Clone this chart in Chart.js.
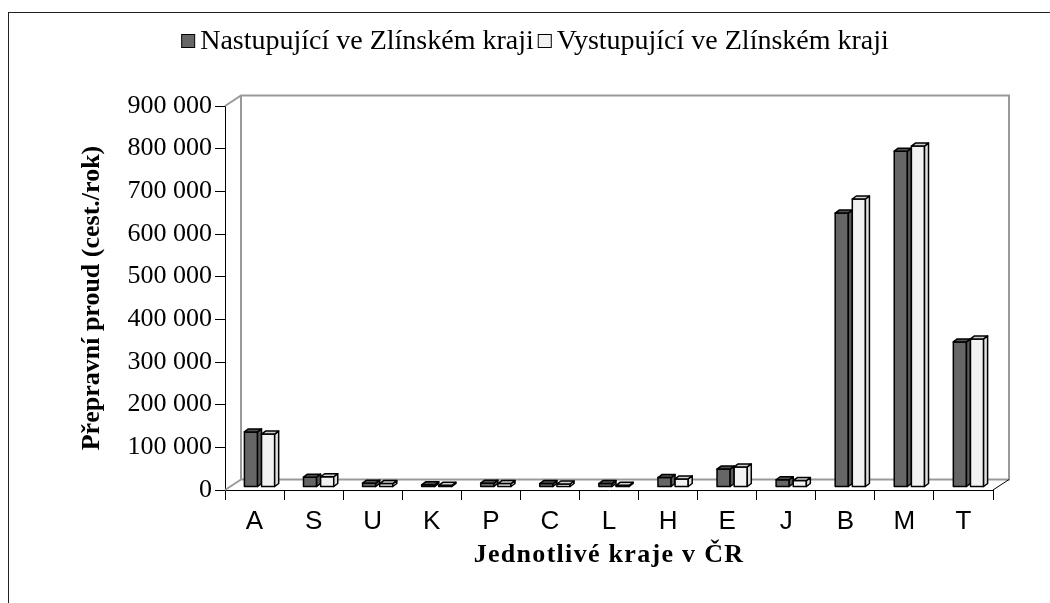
<!DOCTYPE html>
<html>
<head>
<meta charset="utf-8">
<script src="https://cdn.jsdelivr.net/npm/chart.js@4.4.1/dist/chart.umd.min.js"></script>
<style>
  html, body { margin: 0; padding: 0; background: #fff; }
  #wrap { width: 1050px; height: 603px; }
</style>
</head>
<body>
<div id="wrap"><canvas id="kraje-chart" width="1050" height="603"></canvas></div>
<script>
const categories = ["A", "S", "U", "K", "P", "C", "L", "H", "E", "J", "B", "M", "T"];
const seriesNames = ["Nastupující ve Zlínském kraji", "Vystupující ve Zlínském kraji"];
const nastupujici = [129000, 23000, 9000, 5000, 9000, 8000, 8000, 22000, 42000, 17000, 642000, 787000, 340000];
const vystupujici = [124000, 24000, 8000, 4000, 8000, 7000, 4000, 19000, 47000, 15000, 675000, 799000, 347000];
const yTicks = [0, 100000, 200000, 300000, 400000, 500000, 600000, 700000, 800000, 900000];

const seriesColors = [
  { front: "#666666", side: "#5a5a5a", top: "#505050" },
  { front: "#f2f2f2", side: "#e2e2e2", top: "#cfcfcf" },
];

// posun "hloubky" zadni steny a sloupcu
const wallDX = 16, wallDY = -10.5;
const barDX = 7, barDY = -3;
const barDepth = 4, barTopDY = 3;

function formatNumber(v) {
  return String(v).replace(/\B(?=(\d{3})+(?!\d))/g, " ");
}

// zadni stena + podlaha
const wallPlugin = {
  id: "wall",
  beforeDatasetsDraw(chart) {
    const { ctx, chartArea: a } = chart;
    ctx.save();
    ctx.strokeStyle = "#999999";
    ctx.lineWidth = 2;
    ctx.beginPath();
    ctx.moveTo(a.left, a.top);
    ctx.lineTo(a.left + wallDX, a.top + wallDY);
    ctx.lineTo(a.right + wallDX, a.top + wallDY);
    ctx.lineTo(a.right + wallDX, a.bottom + wallDY);
    ctx.lineTo(a.left + wallDX, a.bottom + wallDY);
    ctx.lineTo(a.left + wallDX, a.top + wallDY);
    ctx.moveTo(a.left, a.bottom);
    ctx.lineTo(a.left + wallDX, a.bottom + wallDY);
    ctx.stroke();
    ctx.strokeStyle = "#000000";
    ctx.lineWidth = 1;
    ctx.beginPath();
    ctx.moveTo(a.right, a.bottom);
    ctx.lineTo(a.right + wallDX, a.bottom + wallDY);
    ctx.stroke();
    ctx.restore();
  },
};

// 3D sloupce misto beznych
const bars3dPlugin = {
  id: "bars3d",
  beforeDatasetDraw() {
    return false;
  },
  afterDatasetsDraw(chart) {
    const ctx = chart.ctx;
    ctx.save();
    ctx.lineWidth = 1.5;
    ctx.strokeStyle = "#000000";
    ctx.lineJoin = "round";
    for (let i = 0; i < categories.length; i++) {
      chart.data.datasets.forEach((ds, di) => {
        const el = chart.getDatasetMeta(di).data[i];
        const { x, y, base, width } = el.getProps(["x", "y", "base", "width"], true);
        const c = seriesColors[di];
        const left = x - width / 2 + barDX;
        const right = left + width - barDepth;
        const top = y + barDY;
        const bottom = base + barDY;

        ctx.fillStyle = c.front;
        ctx.beginPath();
        ctx.rect(left, top, right - left, bottom - top);
        ctx.fill();
        ctx.stroke();

        ctx.fillStyle = c.side;
        ctx.beginPath();
        ctx.moveTo(right, top);
        ctx.lineTo(right + barDepth, top - barTopDY);
        ctx.lineTo(right + barDepth, bottom - barTopDY);
        ctx.lineTo(right, bottom);
        ctx.closePath();
        ctx.fill();
        ctx.stroke();

        ctx.fillStyle = c.top;
        ctx.beginPath();
        ctx.moveTo(left, top);
        ctx.lineTo(left + barDepth, top - barTopDY);
        ctx.lineTo(right + barDepth, top - barTopDY);
        ctx.lineTo(right, top);
        ctx.closePath();
        ctx.fill();
        ctx.stroke();
      });
    }
    ctx.restore();
  },
};

// legenda nahore + ramecek
const legendPlugin = {
  id: "legendTop",
  afterDraw(chart) {
    const ctx = chart.ctx;
    ctx.save();
    ctx.strokeStyle = "#222222";
    ctx.lineWidth = 1;
    ctx.strokeRect(8.5, 12.5, 1200, 800);

    ctx.font = "28px 'Liberation Serif'";
    ctx.textBaseline = "middle";
    const box = 13, gap = 6, itemGap = 4;
    const widths = chart.data.datasets.map((ds) => box + gap + ctx.measureText(ds.label).width);
    const total = widths.reduce((a, b) => a + b, 0) + itemGap;
    let x = 535 - total / 2;
    const y = 42;
    chart.data.datasets.forEach((ds, di) => {
      ctx.fillStyle = seriesColors[di].front;
      ctx.fillRect(x + 0.5, y - 7.5, box, box);
      ctx.strokeStyle = "#000000";
      ctx.strokeRect(x + 0.5, y - 7.5, box, box);
      ctx.fillStyle = "#000000";
      ctx.fillText(ds.label, x + box + gap, y);
      x += widths[di] + itemGap;
    });
    ctx.restore();
  },
};

// rozestup pismen u popisu osy x
const spacingPlugin = {
  id: "titleSpacing",
  afterLayout(chart) {
    const s = chart.scales.x;
    if (s._spaced) return;
    const orig = s.drawTitle;
    s.drawTitle = function () {
      chart.ctx.save();
      chart.ctx.letterSpacing = "1.3px";
      orig.call(this);
      chart.ctx.restore();
    };
    s._spaced = true;
  },
};

new Chart(document.getElementById("kraje-chart"), {
  type: "bar",
  data: {
    labels: categories,
    datasets: [
      {
        label: seriesNames[0],
        data: nastupujici,
        backgroundColor: seriesColors[0].front,
        borderColor: "#000",
        borderWidth: 1,
      },
      {
        label: seriesNames[1],
        data: vystupujici,
        backgroundColor: seriesColors[1].front,
        borderColor: "#000",
        borderWidth: 1,
      },
    ],
  },
  options: {
    responsive: false,
    animation: false,
    devicePixelRatio: 1,
    layout: { padding: { top: 106, left: 73, right: 57, bottom: 0 } },
    datasets: { bar: { categoryPercentage: 0.58, barPercentage: 1 } },
    plugins: {
      legend: { display: false },
      tooltip: { enabled: false },
    },
    scales: {
      x: {
        grid: {
          offset: true,
          drawOnChartArea: false,
          drawTicks: true,
          tickLength: 10,
          color: "#000",
        },
        border: { display: true, color: "#000", width: 1 },
        ticks: {
          color: "#000",
          padding: 6,
          font: { family: "'Liberation Sans'", size: 26 },
        },
        title: {
          display: true,
          text: "Jednotlivé kraje v ČR",
          color: "#000",
          padding: { top: 32, bottom: 32 },
          font: { family: "'Liberation Serif'", size: 26, weight: "bold" },
        },
        afterFit(scale) {
          scale.height = 113;
        },
      },
      y: {
        min: 0,
        max: 900000,
        grid: {
          drawOnChartArea: false,
          drawTicks: true,
          tickLength: 10,
          color: "#000",
        },
        border: { display: true, color: "#000", width: 1 },
        afterBuildTicks(scale) {
          scale.ticks = yTicks.map((v) => ({ value: v }));
        },
        ticks: {
          color: "#000",
          padding: 3,
          font: { family: "'Liberation Serif'", size: 26 },
          callback: (value) => formatNumber(value),
        },
        title: {
          display: true,
          text: "Přepravní proud (cest./rok)",
          color: "#000",
          padding: { top: 4, bottom: 4 },
          font: { family: "'Liberation Serif'", size: 26, weight: "bold" },
        },
        afterFit(scale) {
          scale.width = 152;
        },
      },
    },
  },
  plugins: [wallPlugin, bars3dPlugin, legendPlugin, spacingPlugin],
});
</script>
</body>
</html>
